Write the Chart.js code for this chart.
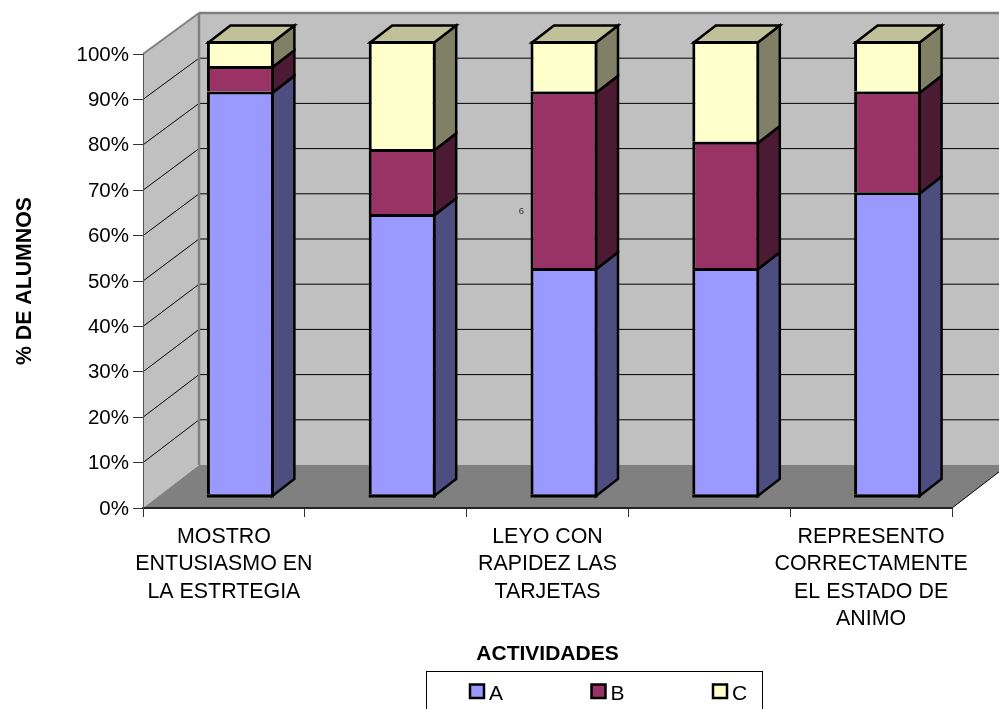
<!DOCTYPE html>
<html>
<head>
<meta charset="utf-8">
<title>Actividades</title>
<script src="https://cdn.jsdelivr.net/npm/chart.js@4/dist/chart.umd.min.js"></script>
<style>
    html, body { margin: 0; padding: 0; background: #fff; }
    canvas { display: block; }
</style>
</head>
<body>
<canvas id="chart" width="999" height="709"></canvas>
<script>
const categories = [
    ['MOSTRO', 'ENTUSIASMO EN', 'LA ESTRTEGIA'],
    '',
    ['LEYO CON', 'RAPIDEZ LAS', 'TARJETAS'],
    '',
    ['REPRESENTO', 'CORRECTAMENTE', 'EL ESTADO DE', 'ANIMO']
];
const seriesA = [88.9, 61.9, 50, 50, 66.7];
const seriesB = [5.6, 14.3, 38.9, 27.8, 22.2];
const seriesC = [5.5, 23.8, 11.1, 22.2, 11.1];

const FONT = '"Liberation Sans", Arial, sans-serif';
const WALL_DX = 56, WALL_DY = -41;   // oblique offset of the back wall
const BAR_DX = 16.5, BAR_DY = -13;   // front plane of the bars
const SIDE_DX = 22, SIDE_DY = -17;   // bar depth
const EDGE = 3;                      // bar outline width

function backY(y, area) {
    return y + WALL_DY - (y - area.top) * 2 / area.height;
}

function poly(ctx, pts, fill, stroke, lw) {
    ctx.beginPath();
    pts.forEach((p, i) => i ? ctx.lineTo(p[0], p[1]) : ctx.moveTo(p[0], p[1]));
    ctx.closePath();
    if (fill) { ctx.fillStyle = fill; ctx.fill(); }
    if (stroke) { ctx.strokeStyle = stroke; ctx.lineWidth = lw; ctx.lineJoin = 'miter'; ctx.stroke(); }
}

function line(ctx, x1, y1, x2, y2, color, lw) {
    ctx.beginPath();
    ctx.moveTo(x1, y1);
    ctx.lineTo(x2, y2);
    ctx.strokeStyle = color;
    ctx.lineWidth = lw;
    ctx.stroke();
}

// walls, floor and the grid lines running over them
const wallsPlugin = {
    id: 'walls',
    beforeDraw(chart) {
        const { ctx, chartArea: a, scales } = chart;
        const bx = a.left + WALL_DX, rx = a.right + WALL_DX;
        const top = backY(a.top, a), bottom = backY(a.bottom, a);
        ctx.save();
        poly(ctx, [[bx, top], [rx, top], [rx, bottom], [bx, bottom]], '#c0c0c0');
        poly(ctx, [[a.left, a.top], [bx, top], [bx, bottom], [a.left, a.bottom]], '#c0c0c0');
        poly(ctx, [[a.left, a.bottom], [bx, bottom], [rx, bottom], [a.right, a.bottom]], '#808080');
        scales.y.ticks.forEach(t => {
            if (t.value === 0 || t.value === 100) return;
            const y = scales.y.getPixelForValue(t.value);
            line(ctx, a.left, y, bx, backY(y, a), '#000', 1);
            line(ctx, bx, backY(y, a), rx, backY(y, a), '#000', 1);
        });
        line(ctx, a.left, a.top, bx, top, '#808080', 2);
        line(ctx, bx, top, rx, top, '#808080', 2.5);
        line(ctx, bx, top, bx, bottom, '#808080', 2.5);
        line(ctx, a.right, a.bottom, rx, bottom, '#000', 1);
        ctx.restore();
    }
};

// moves every bar back onto the floor and adds the side and top faces
const barDepthPlugin = {
    id: 'barDepth',
    beforeDatasetDraw(chart, args) {
        const { ctx } = chart;
        const ds = chart.data.datasets[args.index];
        ctx.save();
        ctx.translate(BAR_DX, BAR_DY);
        args.meta.data.forEach(bar => {
            // chart.js insets the border, the faces start on the middle of it
            const l = bar.x - bar.width / 2 + EDGE / 2, r = bar.x + bar.width / 2 - EDGE / 2;
            const y = bar.y + EDGE / 2, base = bar.base + EDGE / 2;
            poly(ctx, [[r, y], [r + SIDE_DX, y + SIDE_DY], [r + SIDE_DX, base + SIDE_DY], [r, base]],
                ds.sideColor, '#000', 2.5);
            if (ds.topColor) {
                poly(ctx, [[l, y], [l + SIDE_DX, y + SIDE_DY], [r + SIDE_DX, y + SIDE_DY], [r, y]],
                    ds.topColor, '#000', 2.5);
            }
        });
    },
    afterDatasetDraw(chart, args) {
        const { ctx } = chart;
        if (args.index === 0) {
            args.meta.data.forEach(bar => {
                const y = bar.base + EDGE / 2;
                line(ctx, bar.x - bar.width / 2, y, bar.x + bar.width / 2, y, '#000', EDGE);
            });
        }
        ctx.restore();
    }
};

// framed legend under the axis title, plus the stray label inside the plot
const legendPlugin = {
    id: 'framedLegend',
    afterDraw(chart) {
        const { ctx } = chart;
        ctx.save();
        ctx.strokeStyle = '#000';
        ctx.lineWidth = 1;
        ctx.strokeRect(426.5, 671.5, 336, 50);
        ctx.font = '21px ' + FONT;
        ctx.textBaseline = 'middle';
        chart.data.datasets.forEach((ds, i) => {
            const x = 470 + i * 121.5;
            ctx.fillStyle = ds.backgroundColor;
            ctx.fillRect(x, 684.5, 14, 13.5);
            ctx.strokeStyle = '#000';
            ctx.lineWidth = 2.5;
            ctx.strokeRect(x, 684.5, 14, 13.5);
            ctx.fillStyle = '#000';
            ctx.fillText(ds.label, x + 19, 694);
        });
        ctx.font = '9.5px ' + FONT;
        ctx.textAlign = 'center';
        ctx.fillStyle = '#333';
        ctx.fillText('6', 521.5, 211);
        ctx.restore();
    }
};

const outline = { top: EDGE, left: EDGE, right: EDGE, bottom: 0 };

new Chart(document.getElementById('chart'), {
    type: 'bar',
    data: {
        labels: categories,
        datasets: [
            { label: 'A', data: seriesA, backgroundColor: '#9999ff', sideColor: '#4d4d80',
              borderColor: '#000', borderSkipped: false, borderWidth: outline },
            { label: 'B', data: seriesB, backgroundColor: '#993366', sideColor: '#4d1a33',
              borderColor: '#000', borderSkipped: false, borderWidth: outline },
            { label: 'C', data: seriesC, backgroundColor: '#ffffcc', sideColor: '#808066', topColor: '#c0c099',
              borderColor: '#000', borderSkipped: false, borderWidth: outline }
        ]
    },
    options: {
        responsive: false,
        animation: false,
        events: [],
        clip: false,
        barPercentage: 0.414,
        categoryPercentage: 1,
        layout: { padding: { top: 54, right: 47 } },
        plugins: {
            legend: { display: false },
            tooltip: { enabled: false }
        },
        scales: {
            x: {
                stacked: true,
                afterFit: s => { s.height = 201; },
                grid: { drawOnChartArea: false, color: '#333', tickLength: 9 },
                border: { color: '#222', width: 2 },
                ticks: {
                    autoSkip: false, maxRotation: 0, minRotation: 0, padding: 6, color: '#000',
                    font: { family: FONT, size: 21.4, lineHeight: 1.285 }
                },
                title: {
                    display: true, text: 'ACTIVIDADES', color: '#000',
                    font: { family: FONT, size: 21, weight: 'bold' },
                    padding: { top: 0, bottom: 42 }
                }
            },
            y: {
                stacked: true,
                min: 0,
                max: 100,
                afterFit: s => { s.width = 143; },
                grid: { drawOnChartArea: false, color: '#333', tickLength: 10 },
                border: { color: '#555', width: 1 },
                ticks: {
                    stepSize: 10, padding: 4, color: '#000', labelOffset: 1,
                    callback: v => v + '%',
                    font: { family: FONT, size: 20.5 }
                },
                title: {
                    display: true, text: '% DE ALUMNOS', color: '#000',
                    font: { family: FONT, size: 21.3, weight: 'bold' },
                    padding: { top: 12, bottom: 0 }
                }
            }
        }
    },
    plugins: [wallsPlugin, barDepthPlugin, legendPlugin]
});
</script>
</body>
</html>
